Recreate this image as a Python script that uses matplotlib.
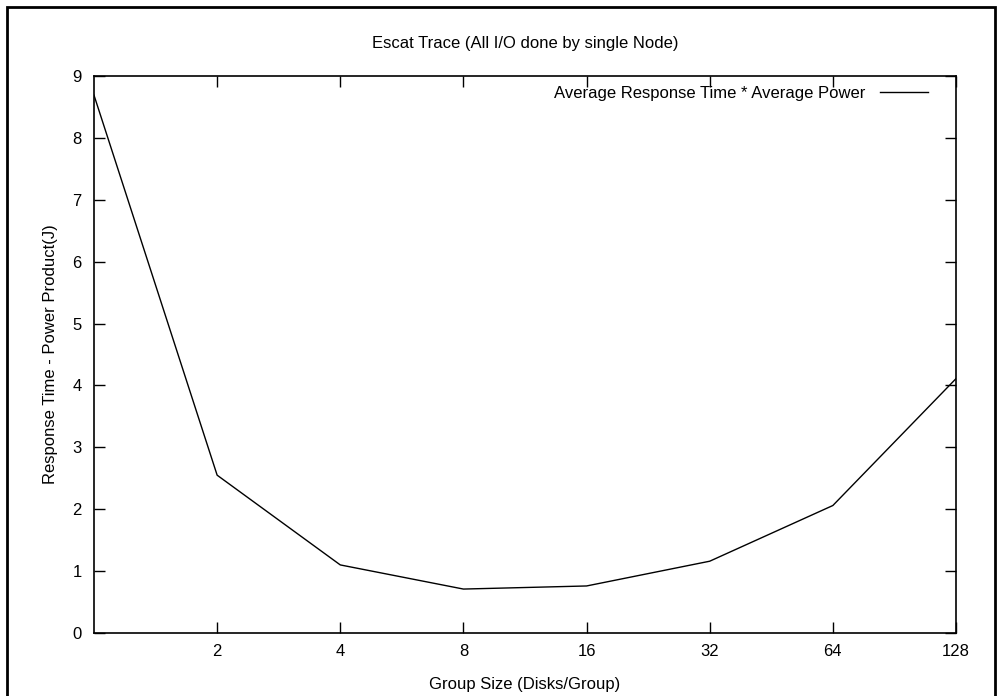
"""Escat trace: response time * power product vs group size (gnuplot-style)."""

import matplotlib
matplotlib.use("Agg")
import matplotlib.pyplot as plt
import matplotlib.ticker as mticker
from matplotlib.patches import Rectangle

GROUP_SIZE = [1, 2, 4, 8, 16, 32, 64, 128]
RT_POWER = [8.69, 2.55, 1.10, 0.71, 0.76, 1.16, 2.06, 4.11]
X_TICKS = [2, 4, 8, 16, 32, 64, 128]
Y_TICKS = list(range(0, 10))

plt.rcParams.update({
    "font.family": ["Liberation Sans", "DejaVu Sans"],
    "font.size": 12,
})

fig = plt.figure(figsize=(9.98, 6.96), dpi=100)
ax = fig.add_axes([94 / 998, 1 - 633 / 696, (956 - 94) / 998, (633 - 76) / 696])

ax.plot(GROUP_SIZE, RT_POWER, color="black", linewidth=1.0,
        label="Average Response Time * Average Power")

ax.set_xscale("log", base=2)
ax.set_xlim(1, 128)
ax.set_ylim(0, 9)
ax.xaxis.set_major_locator(mticker.FixedLocator(X_TICKS))
ax.xaxis.set_major_formatter(mticker.FixedFormatter([str(v) for v in X_TICKS]))
ax.xaxis.set_minor_locator(mticker.NullLocator())
ax.set_yticks(Y_TICKS)

ax.tick_params(direction="in", length=8, width=1, top=True, right=True,
               labelsize=12, pad=9, colors="black")
ax.tick_params(axis="x", pad=8)
for s in ax.spines.values():
    s.set_linewidth(1.2)

ax.set_title("Escat Trace (All I/O done by single Node)", fontsize=12, pad=20)
ax.set_xlabel("Group Size (Disks/Group)", fontsize=12, labelpad=13)
ax.set_ylabel("Response Time - Power Product(J)", fontsize=12, labelpad=10)

ax.legend(loc="upper right", frameon=False, markerfirst=False, fontsize=12,
          handlelength=2.9, borderaxespad=0.0, handletextpad=0.9,
          bbox_to_anchor=(1 - 21 / 862, 1 - 3 / 557))

fig.patches.append(Rectangle((7 / 998, -0.02), (995 - 7) / 998, 0.02 + 689 / 696,
                             transform=fig.transFigure, fill=False,
                             edgecolor="black", linewidth=2.0))

fig.savefig("out.png", dpi=100)
